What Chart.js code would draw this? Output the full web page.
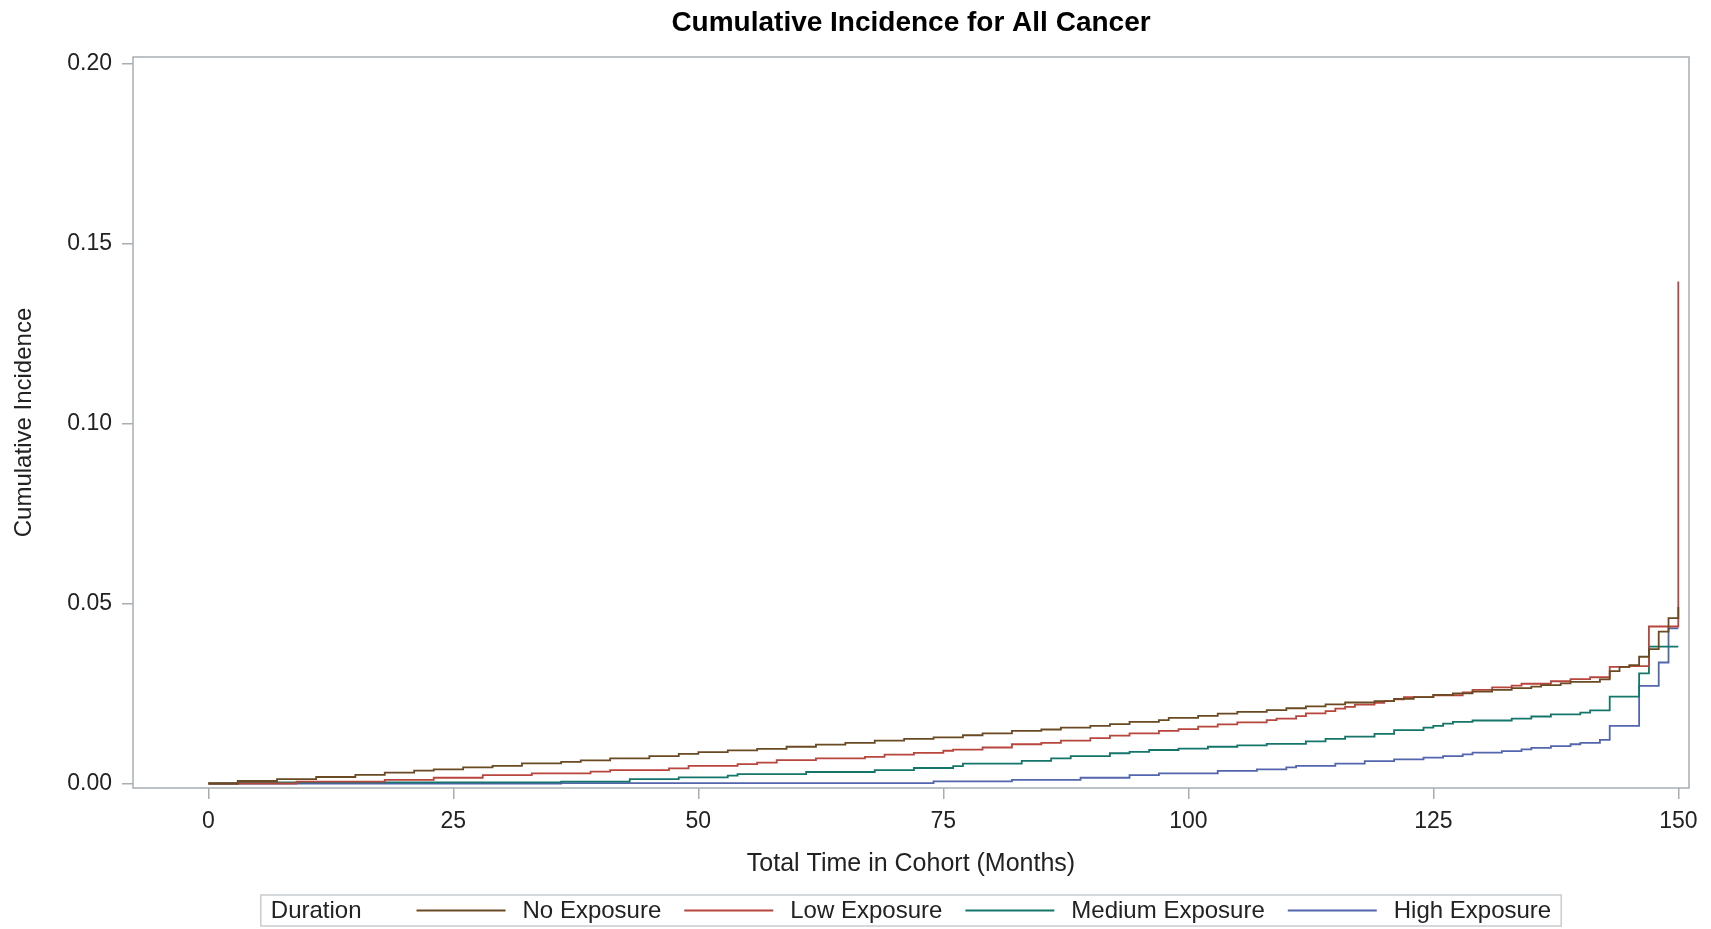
<!DOCTYPE html>
<html>
<head>
<meta charset="utf-8">
<title>Cumulative Incidence for All Cancer</title>
<script src="https://cdn.jsdelivr.net/npm/chart.js@4.4.1/dist/chart.umd.min.js"></script>
<style>
  html, body { margin: 0; padding: 0; background: #fff; }
  #wrap { width: 1711px; height: 929px; }
</style>
</head>
<body>
<div id="wrap"><canvas id="ciChart" width="1711" height="929"></canvas></div>
<script>
// Step data (months, cumulative incidence)
const seriesLabels = ['No Exposure', 'Low Exposure', 'Medium Exposure', 'High Exposure'];
const seriesColors = ['#6a4a22', '#b8463c', '#14766a', '#5366ad'];

const noExpMonths = [0,3,7,11,15,18,21,23,26,29,32,36,38,41,45,48,50,53,56,59,62,65,68,71,74,77,79,82,85,87,90,92,94,97,98,101,103,105,108,110,112,114,116,119,121,123,125,127,129,131,133,135,136,138,139,142,143,144,145,146,147,148,149,150];
const noExpCI = [0,.0007,.0012,.0018,.0024,.003,.0036,.0039,.0045,.0049,.0056,.006,.0064,.007,.0076,.0082,.0087,.0092,.0096,.0102,.0108,.0113,.0119,.0124,.0128,.0134,.0139,.0146,.015,.0155,.016,.0165,.0171,.0176,.0182,.0188,.0194,.0199,.0204,.0209,.0214,.022,.0225,.0229,.0235,.024,.0246,.025,.0255,.026,.0265,.0269,.0273,.0278,.0282,.0289,.0312,.0324,.0329,.0352,.0373,.0422,.0459,.049];

const lowExpMonths = [0,9,18,23,28,33,39,41,47,49,54,56,58,62,67,69,72,75,76,79,82,85,87,90,92,94,97,99,101,103,105,108,109,111,112,114,115,116,117,119,120,121,122,125,128,129,131,133,134,137,139,141,143,145,147,150];
const lowExpCI = [0,.0005,.001,.0016,.0023,.0028,.0033,.0037,.0042,.0049,.0054,.0058,.0065,.007,.0074,.008,.0085,.0091,.0094,.01,.0109,.0113,.0119,.0126,.0133,.0139,.0146,.0151,.0158,.0164,.017,.0176,.018,.0187,.0195,.0201,.0208,.0213,.0219,.0224,.0229,.0234,.024,.0245,.0253,.026,.0267,.0272,.0277,.0284,.029,.0295,.0324,.0326,.0436,.1394];

const medExpMonths = [0,3,36,43,48,53,54,61,68,72,76,77,83,86,88,92,94,96,99,102,105,108,112,114,116,119,121,124,125,126,127,129,133,135,137,140,141,143,146,147,150];
const medExpCI = [0,.0003,.0005,.0012,.0017,.0022,.0026,.0032,.0037,.0043,.0048,.0055,.0063,.007,.0076,.0084,.0088,.0093,.0097,.0102,.0106,.011,.0117,.0124,.013,.0138,.0148,.0155,.016,.0166,.0171,.0175,.018,.0186,.0192,.0197,.0203,.0241,.0306,.038,.038];

const highExpMonths = [0,36,74,82,89,94,97,103,107,110,111,115,118,121,124,126,128,129,132,134,135,137,139,140,142,143,146,148,149,150];
const highExpCI = [0,.0001,.0006,.001,.0016,.0023,.0028,.0035,.0039,.0045,.0049,.0055,.0062,.0067,.0072,.0076,.0081,.0086,.009,.0095,.0099,.0104,.0109,.0113,.0121,.016,.0271,.0336,.0431,.0431];

const xTickValues = [0, 25, 50, 75, 100, 125, 150];
const yTickValues = [0, 0.05, 0.10, 0.15, 0.20];

const FONT = '"Liberation Sans", Arial, sans-serif';
const FRAME = '#a7aeb3';

function toPoints(months, values) {
  return months.map((m, i) => ({ x: m, y: values[i] }));
}

const allSeries = [
  toPoints(noExpMonths, noExpCI),
  toPoints(lowExpMonths, lowExpCI),
  toPoints(medExpMonths, medExpCI),
  toPoints(highExpMonths, highExpCI),
];

// plot frame (all four sides)
const framePlugin = {
  id: 'frame',
  beforeDatasetsDraw(chart) {
    const { ctx, chartArea: a } = chart;
    ctx.save();
    ctx.strokeStyle = FRAME;
    ctx.lineWidth = 1.5;
    ctx.strokeRect(a.left, a.top, a.right - a.left, a.bottom - a.top);
    ctx.restore();
  },
};

// SAS-style boxed legend with "Duration" caption
const legendPlugin = {
  id: 'sasLegend',
  afterDraw(chart) {
    const { ctx, chartArea: a } = chart;
    ctx.save();
    ctx.font = '24px ' + FONT;
    const pad = 10, capGap = 55, lineLen = 89, lineGap = 17, itemGap = 23;
    let total = pad + ctx.measureText('Duration').width + capGap;
    seriesLabels.forEach((l, i) => {
      total += lineLen + lineGap + ctx.measureText(l).width;
      if (i < seriesLabels.length - 1) total += itemGap;
    });
    total += pad;
    const cx = (a.left + a.right) / 2;
    const top = 895, h = 31, cy = top + h / 2;
    let x = cx - total / 2;
    ctx.strokeStyle = '#c9cdd0';
    ctx.lineWidth = 1.5;
    ctx.strokeRect(x, top, total, h);
    ctx.fillStyle = '#222';
    ctx.textBaseline = 'middle';
    x += pad;
    ctx.fillText('Duration', x, cy + 1);
    x += ctx.measureText('Duration').width + capGap;
    seriesLabels.forEach((l, i) => {
      ctx.strokeStyle = seriesColors[i];
      ctx.lineWidth = 2;
      ctx.beginPath();
      ctx.moveTo(x, cy);
      ctx.lineTo(x + lineLen, cy);
      ctx.stroke();
      x += lineLen + lineGap;
      ctx.fillText(l, x, cy + 1);
      x += ctx.measureText(l).width + itemGap;
    });
    ctx.restore();
  },
};

const ctx = document.getElementById('ciChart').getContext('2d');
new Chart(ctx, {
  type: 'line',
  data: {
    datasets: allSeries.map((pts, i) => ({
      label: seriesLabels[i],
      data: pts,
      borderColor: seriesColors[i],
      backgroundColor: seriesColors[i],
      borderWidth: 1.8,
      stepped: 'before',
      pointRadius: 0,
      fill: false,
    })),
  },
  options: {
    responsive: false,
    animation: false,
    events: [],
    layout: { padding: { top: 0, left: 0, right: 22, bottom: 49 } },
    scales: {
      x: {
        type: 'linear',
        min: -7.69,
        max: 151.09,
        afterBuildTicks: (s) => { s.ticks = xTickValues.map((v) => ({ value: v })); },
        afterFit: (s) => { s.height = 92; },
        ticks: {
          color: '#222',
          font: { family: FONT, size: 23 },
          padding: 9,
          maxRotation: 0,
          callback: (v) => String(v),
        },
        grid: { display: true, drawOnChartArea: false, drawTicks: true, tickLength: 11, color: FRAME, lineWidth: 1.5 },
        border: { display: false },
        title: {
          display: true,
          text: 'Total Time in Cohort (Months)',
          color: '#222',
          font: { family: FONT, size: 25 },
          padding: { top: 0, bottom: 1 },
        },
      },
      y: {
        type: 'linear',
        min: -0.00125,
        max: 0.20175,
        afterBuildTicks: (s) => { s.ticks = yTickValues.map((v) => ({ value: v })); },
        afterFit: (s) => { s.width = 133; },
        ticks: {
          color: '#222',
          font: { family: FONT, size: 23 },
          padding: 10,
          callback: (v) => Number(v).toFixed(2),
        },
        grid: { display: true, drawOnChartArea: false, drawTicks: true, tickLength: 11, color: FRAME, lineWidth: 1.5 },
        border: { display: false },
        title: {
          display: true,
          text: 'Cumulative Incidence',
          color: '#222',
          font: { family: FONT, size: 24 },
          padding: { top: 10, bottom: 0 },
        },
      },
    },
    plugins: {
      legend: { display: false },
      tooltip: { enabled: false },
      title: {
        display: true,
        fullSize: false,
        text: 'Cumulative Incidence for All Cancer',
        color: '#000',
        font: { family: FONT, size: 28, weight: 'bold' },
        padding: { top: 6, bottom: 17.4 },
      },
    },
  },
  plugins: [framePlugin, legendPlugin],
});
</script>
</body>
</html>
